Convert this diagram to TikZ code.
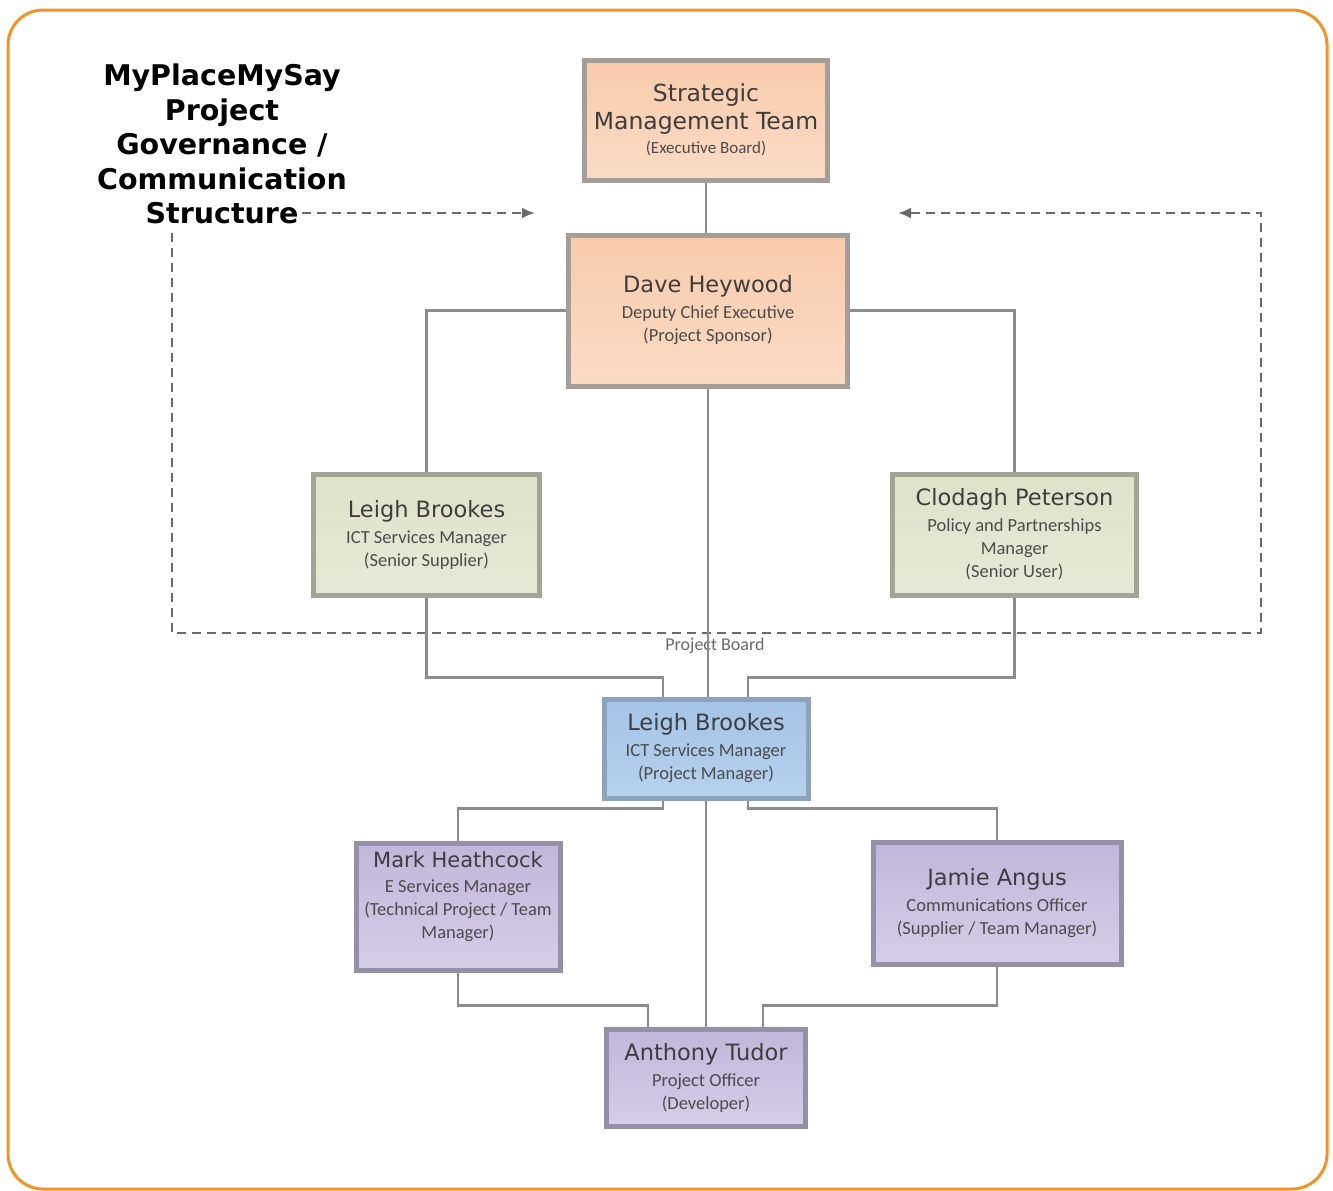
\documentclass[tikz,border=0pt]{standalone}
\usepackage{fontspec}
\setmainfont{DejaVu Sans}
\newfontfamily\subfamily{Carlito}
\usetikzlibrary{arrows.meta,positioning}

\definecolor{frameorange}{HTML}{F39325}
\definecolor{linkgray}{HTML}{8C8C8C}
\definecolor{dashgray}{HTML}{6A6A6A}
\definecolor{namegray}{HTML}{3D3D3D}
\definecolor{subgray}{HTML}{4C4C4C}
\definecolor{execline}{HTML}{A59E98}
\definecolor{execa}{HTML}{F8CBAB}
\definecolor{execb}{HTML}{FBDBC5}
\definecolor{boardline}{HTML}{A2A594}
\definecolor{boarda}{HTML}{DFE2C9}
\definecolor{boardb}{HTML}{E7E9D7}
\definecolor{pmline}{HTML}{8EA3BB}
\definecolor{pma}{HTML}{A4C3E6}
\definecolor{pmb}{HTML}{B7D1EE}
\definecolor{teamline}{HTML}{968FA8}
\definecolor{teama}{HTML}{C2B6DA}
\definecolor{teamb}{HTML}{D6CDE7}

\newcommand{\nm}{\normalfont\color{namegray}\fontsize{22.5}{27}\selectfont}

\begin{document}
\begin{tikzpicture}[x=1pt, y=-1pt, node distance=40pt]
\tikzset{
    orgbox/.style={rectangle, line width=5pt, align=center, inner sep=2pt, text=subgray, font=\subfamily\fontsize{18.5}{23}\selectfont},
    execbox/.style={orgbox, draw=execline, top color=execa, bottom color=execb},
    boardbox/.style={orgbox, draw=boardline, top color=boarda, bottom color=boardb},
    pmbox/.style={orgbox, draw=pmline, top color=pma, bottom color=pmb},
    teambox/.style={orgbox, draw=teamline, top color=teama, bottom color=teamb},
    link/.style={draw=linkgray, line width=2.5pt},
    boardedge/.style={draw=dashgray, line width=2.5pt, dash pattern=on 9pt off 6pt, >={Latex[length=13pt,width=11pt]}},
    mytitle/.style={align=center, font=\bfseries\fontsize{28.5}{34.5}\selectfont}
}
\useasboundingbox (0,0) rectangle (1333,1191);
\draw[frameorange, line width=3pt, rounded corners=35pt] (8,10) rectangle (1327,1189);

\node[mytitle] (title) at (222,144) {MyPlaceMySay\\Project\\Governance /\\Communication\\Structure};

\node[execbox, minimum width=243pt, minimum height=120pt] (smt) at (706,120)
    {{\nm\fontsize{23.5}{27}\selectfont Strategic}\\[5pt]{\nm\fontsize{23.5}{27}\selectfont Management Team}\\[1pt]{\fontsize{17}{20}\selectfont(Executive Board)}};
\node[execbox, minimum width=279pt, minimum height=151pt, below=50pt of smt, xshift=2pt] (dave)
    {{\nm Dave Heywood}\\[3pt]Deputy Chief Executive\\(Project Sponsor)};
\node[boardbox, minimum width=226pt, minimum height=121pt, below left=83pt and 24pt of dave] (seniorsup)
    {{\nm Leigh Brookes}\\[3pt]ICT Services Manager\\(Senior Supplier)};
\node[boardbox, minimum width=244pt, minimum height=121pt, below right=83pt and 40pt of dave] (senioruser)
    {{\nm Clodagh Peterson}\\[3pt]Policy and Partnerships\\Manager\\(Senior User)};
\node[pmbox, minimum width=204pt, minimum height=99pt, below=308pt of dave, xshift=-2pt] (pm)
    {{\nm Leigh Brookes}\\[3pt]ICT Services Manager\\(Project Manager)};
\node[teambox, minimum width=204pt, minimum height=127pt, below left=40pt and 39pt of pm] (techpm)
    {{\nm\fontsize{21}{27}\selectfont Mark Heathcock}\\[2pt]E Services Manager\\(Technical Project / Team\\Manager)\\ \mbox{}};
\node[teambox, minimum width=248pt, minimum height=122pt, below right=39pt and 60pt of pm] (comms)
    {{\nm Jamie Angus}\\[3pt]Communications Officer\\(Supplier / Team Manager)};
\node[teambox, minimum width=199pt, minimum height=97pt, below=226pt of pm] (dev)
    {{\nm Anthony Tudor}\\[3pt]Project Officer\\(Developer)};

% project board outline
\coordinate (ttlend) at (302,213);
\coordinate (ttltip) at (535,213);
\coordinate (pbw) at (172,233);
\coordinate (pbse) at (1261,633);
\coordinate (pbtip) at (898,213);
\draw[boardedge,->] (ttlend) -- (ttltip);
\draw[boardedge,->] (pbw) |- (pbse) |- (pbtip);
\node[text=dashgray, font=\subfamily\fontsize{18}{20}\selectfont] (pblabel) at (715,646) {Project Board};

\draw[link] (smt) -- (smt |- dave.north);
\draw[link] (dave.west) -| (seniorsup.north);
\draw[link] (dave.east) -| (senioruser.north);
\draw[link] (dave.south) -- (dave.south |- pm.north);
\draw[link] (seniorsup.south) -- ++(0,80) -| ([xshift=-43pt]pm.north);
\draw[link] (senioruser.south) -- ++(0,80) -| ([xshift=42pt]pm.north);
\draw[link] ([xshift=-43pt]pm.south) -- ++(0,8) -| (techpm.north);
\draw[link] ([xshift=42pt]pm.south) -- ++(0,8) -| (comms.north);
\draw[link] (pm.south) -- (pm.south |- dev.north);
\draw[link] (techpm.south) -- ++(0,33) -| ([xshift=-58pt]dev.north);
\draw[link] (comms.south) -- ++(0,39) -| ([xshift=57pt]dev.north);

\end{tikzpicture}
\end{document}
